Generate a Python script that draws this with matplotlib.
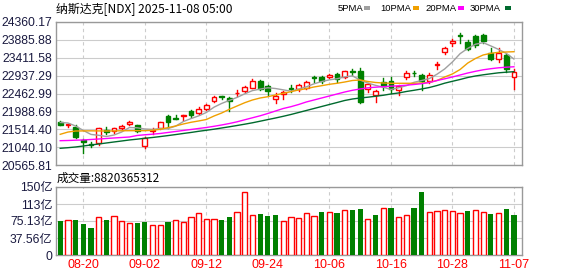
import numpy as np
import matplotlib
matplotlib.use('Agg')
import matplotlib.pyplot as plt
from matplotlib.patches import Rectangle

plt.rcParams['font.family'] = ['Noto Sans CJK SC', 'DejaVu Sans']

# ---- data ----
dates = ['08-15', '08-18', '08-19', '08-20', '08-21', '08-22', '08-25', '08-26', '08-27', '08-28',
         '08-29', '09-02', '09-03', '09-04', '09-05', '09-08', '09-09', '09-10', '09-11', '09-12',
         '09-15', '09-16', '09-17', '09-18', '09-19', '09-22', '09-23', '09-24', '09-25', '09-26',
         '09-29', '09-30', '10-01', '10-02', '10-03', '10-06', '10-07', '10-08', '10-09', '10-10',
         '10-13', '10-14', '10-15', '10-16', '10-17', '10-20', '10-21', '10-22', '10-23', '10-24',
         '10-27', '10-28', '10-29', '10-30', '10-31', '11-03', '11-04', '11-05', '11-06', '11-07']

opens = [21707, 21615, 21582, 21230, 21123, 21142, 21495, 21460, 21540, 21646,
         21620, 21070, 21460, 21556, 21866, 21820, 21875, 21991, 21954, 22060,
         22272, 22389, 22344, 22463, 22537, 22622, 22787, 22654, 22309, 22442,
         22596, 22583, 22622, 22893, 22909, 22914, 22980, 22901, 23047, 23047,
         22583, 22410, 22760, 22795, 22543, 22893, 23015, 22967, 22795, 23206,
         23551, 23816, 24002, 23838, 23989, 24002, 23530, 23378, 23485, 22914]
highs = [21725, 21665, 21628, 21243, 21185, 21556, 21582, 21556, 21620, 21742,
         21636, 21317, 21560, 21720, 21893, 21893, 21895, 22012, 22097, 22185,
         22397, 22400, 22378, 22543, 22655, 22835, 22813, 22689, 22468, 22517,
         22676, 22702, 22803, 22927, 22927, 22980, 23020, 23073, 23113, 23132,
         22742, 22556, 22861, 22888, 22676, 23060, 23068, 22980, 22994, 23312,
         23705, 23922, 24076, 23883, 24015, 24034, 23662, 23662, 23498, 23126]
lows = [21620, 21580, 21290, 20893, 21036, 21105, 21389, 21407, 21513, 21620,
        21442, 21009, 21400, 21530, 21548, 21790, 21760, 21848, 21919, 22033,
        22238, 22325, 21997, 22397, 22503, 22596, 22556, 22424, 22198, 22304,
        22503, 22530, 22583, 22768, 22750, 22874, 22755, 22874, 22941, 22203,
        22511, 22225, 22556, 22477, 22410, 22848, 22927, 22543, 22742, 23126,
        23511, 23723, 23803, 23604, 23705, 23816, 23352, 23307, 23034, 22583]
closes = [21635, 21645, 21318, 21185, 21089, 21540, 21450, 21540, 21593, 21715,
          21476, 21274, 21490, 21707, 21700, 21795, 21890, 21893, 22060, 22158,
          22370, 22362, 22256, 22484, 22628, 22795, 22591, 22537, 22405, 22503,
          22582, 22681, 22776, 22874, 22795, 22941, 22848, 23060, 23034, 22230,
          22702, 22530, 22670, 22591, 22649, 23020, 22999, 22795, 22941, 23233,
          23662, 23843, 23989, 23631, 23750, 23856, 23371, 23546, 23113, 23041]

ma5 = [21694, 21681, 21601, 21482, 21377, 21354, 21322, 21362, 21442, 21561,
       21553, 21521, 21511, 21532, 21532, 21596, 21718, 21797, 21869, 21959,
       22100, 22200, 22280, 22360, 22455, 22540, 22580, 22615, 22595, 22560,
       22525, 22580, 22640, 22720, 22780, 22825, 22855, 22905, 22930, 22820,
       22740, 22680, 22630, 22570, 22615, 22670, 22760, 22807, 22860, 22975,
       23115, 23300, 23520, 23660, 23770, 23812, 23725, 23633, 23528, 23378]
ma10 = [21380, 21440, 21468, 21470, 21472, 21470, 21468, 21470, 21474, 21476,
        21476, 21476, 21487, 21513, 21556, 21601, 21654, 21699, 21734, 21773,
        21866, 21946, 22044, 22132, 22219, 22291, 22344, 22378, 22423, 22469,
        22511, 22556, 22591, 22636, 22670, 22707, 22734, 22768, 22808, 22821,
        22782, 22755, 22742, 22734, 22734, 22734, 22734, 22742, 22755, 22808,
        22901, 22981, 23100, 23272, 23392, 23485, 23530, 23556, 23564, 23572]
ma20 = [21211, 21216, 21224, 21230, 21243, 21256, 21269, 21283, 21296, 21309,
        21349, 21368, 21383, 21402, 21429, 21455, 21482, 21508, 21535, 21561,
        21593, 21628, 21667, 21712, 21766, 21819, 21872, 21933, 21999, 22065,
        22113, 22171, 22238, 22291, 22344, 22397, 22450, 22503, 22548, 22583,
        22614, 22630, 22644, 22657, 22668, 22683, 22702, 22723, 22755, 22808,
        22853, 22901, 22954, 23007, 23052, 23092, 23121, 23145, 23161, 23172]
ma30 = [21009, 21025, 21044, 21070, 21097, 21123, 21150, 21177, 21203, 21230,
        21251, 21275, 21296, 21320, 21346, 21373, 21402, 21429, 21460, 21487,
        21516, 21548, 21580, 21614, 21649, 21686, 21728, 21771, 21813, 21858,
        21906, 21959, 22012, 22065, 22118, 22171, 22224, 22278, 22317, 22344,
        22365, 22389, 22416, 22450, 22477, 22516, 22548, 22583, 22622, 22675,
        22737, 22787, 22835, 22888, 22928, 22959, 22986, 23012, 23028, 23042]

# volume in 亿
volumes = [75.7, 77.2, 77.2, 68.5, 59.7, 83.0, 77.2, 86.0, 75.0, 70.0,
           70.6, 72.8, 65.5, 65.5, 72.8, 77.2, 72.8, 83.0, 91.8, 78.7,
           78.7, 77.2, 83.0, 94.7, 139.8, 87.4, 90.3, 86.0, 88.1, 74.3,
           83.0, 81.6, 91.8, 86.0, 94.7, 94.7, 92.5, 100.5, 99.0, 101.2,
           78.7, 88.1, 104.9, 103.4, 83.0, 87.4, 103.4, 138.4, 94.7, 96.9,
           99.0, 96.9, 92.5, 96.9, 100.5, 94.7, 90.3, 91.8, 101.2, 88.2]
last_volume = 8820365312

price_ticks = [20565.81, 21040.10, 21514.40, 21988.69, 22462.99, 22937.29, 23411.58, 23885.88, 24360.17]
vol_ticks = [0, 37.565, 75.13, 112.695, 150.26]
vol_tick_labels = ['0', '37.56亿', '75.13亿', '113亿', '150亿']
date_ticks = ['08-20', '09-02', '09-12', '09-24', '10-06', '10-16', '10-28', '11-07']

ma_names = ['5PMA', '10PMA', '20PMA', '30PMA']
ma_colors = ['#a0a0a0', '#f0a000', '#ff00ff', '#006a2e']

RED = '#ff0000'
GREEN = '#008000'
LABEL_C = '#1a1a40'
NUM_FONT = ['Liberation Sans', 'Noto Sans CJK SC']

fig = plt.figure(figsize=(5.78, 2.76), dpi=100)
ax = fig.add_axes([56 / 578, 1 - 165 / 276, 466 / 578, 143 / 276])
axv = fig.add_axes([56 / 578, 1 - 255 / 276, 466 / 578, 68 / 276])

x = np.arange(len(dates))
tick_idx = [dates.index(d) for d in date_ticks]

for a in (ax, axv):
    a.set_xlim(-0.55, 60.05)
    for s in a.spines.values():
        s.set_color('#999999')
        s.set_linewidth(1.0)
    a.set_xticks(tick_idx)
    for t in tick_idx:
        a.axvline(t, color='#cccccc', lw=0.8, ls=(0, (3, 3)), zorder=0)
    a.tick_params(length=0)

# candles
bw = 0.62
for i in x:
    o, h, l, c = opens[i], highs[i], lows[i], closes[i]
    up = c >= o
    col = RED if up else GREEN
    ax.plot([i, i], [l, h], color=col, lw=1.0, zorder=2)
    lo, hi = min(o, c), max(o, c)
    if hi - lo < 8:
        ax.plot([i - bw / 2, i + bw / 2], [c, c], color=col, lw=1.2, zorder=3)
    else:
        ax.add_patch(Rectangle((i - bw / 2, lo), bw, hi - lo,
                               facecolor='white' if up else GREEN,
                               edgecolor=col, lw=1.0, zorder=3))

for vals, col in zip([ma5, ma10, ma20, ma30], ma_colors):
    ax.plot(x, vals, color=col, lw=1.0, zorder=4)

ax.set_ylim(price_ticks[0], price_ticks[-1])
ax.set_yticks(price_ticks)
ax.set_yticklabels([f'{v:.2f}' for v in price_ticks], fontsize=8.7, color=LABEL_C,
                   family=NUM_FONT)
ax.grid(axis='y', color='#cccccc', lw=0.8)
ax.set_axisbelow(True)
ax.set_xticklabels([])
ax.tick_params(axis='y', pad=2.5)

# volume
for i in x:
    prev = closes[i - 1] if i > 0 else opens[i]
    up = closes[i] >= prev
    if up:
        axv.bar(i, volumes[i], width=0.68, facecolor='white', edgecolor=RED, lw=1.0, zorder=3)
    else:
        axv.bar(i, volumes[i], width=0.68, color=GREEN, zorder=3)
axv.set_ylim(0, vol_ticks[-1])
axv.set_yticks(vol_ticks)
axv.set_yticklabels(vol_tick_labels, fontsize=8.7, color=LABEL_C, family=NUM_FONT)
axv.grid(axis='y', color='#cccccc', lw=0.8)
axv.set_axisbelow(True)
axv.set_xticklabels(date_ticks, fontsize=9, color=RED, family=NUM_FONT)
axv.tick_params(axis='x', pad=3)
axv.tick_params(axis='y', pad=2.5)

# texts
fig.text(56 / 578, 1 - 9 / 276, '纳斯达克[NDX] 2025-11-08 05:00', fontsize=8.6,
         va='center', ha='left', color='black')
fig.text(57 / 578, 1 - 178 / 276, f'成交量:{last_volume}', fontsize=8.4,
         va='center', ha='left', color='black')

# legend: label + small colour chip
xpos = [338, 380, 425, 470]
chip = [364, 413, 458, 505]
for name, col, xp, cx in zip(ma_names, ma_colors, xpos, chip):
    fig.text(xp / 578, 1 - 8.5 / 276, name, fontsize=6.8, va='center', ha='left',
             color='black', family='Liberation Sans')
    fig.patches.append(Rectangle((cx / 578, 1 - 10 / 276), 5.5 / 578, 3.5 / 276,
                                 transform=fig.transFigure, facecolor=col, edgecolor='none'))

fig.savefig('out.png', dpi=100)
